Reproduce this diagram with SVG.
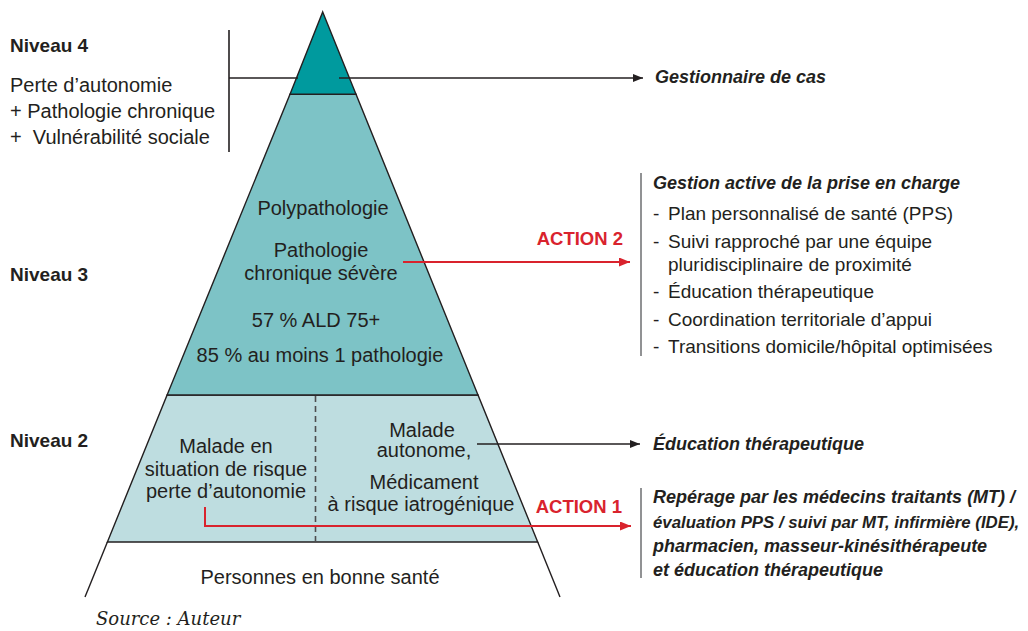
<svg xmlns="http://www.w3.org/2000/svg" width="1028" height="631" viewBox="0 0 1028 631">
<defs>
<style>
.t{font-family:"Liberation Sans",Arial,sans-serif;fill:#231F20}
.r20{font-size:20px}
.r19{font-size:19px}
.niv{font-size:19px;font-weight:bold}
.bi{font-size:18px;font-weight:bold;font-style:italic}
.act{font-family:"Liberation Sans",Arial,sans-serif;font-size:18.5px;font-weight:bold;fill:#D9232D}
.mid{text-anchor:middle}
.edge{stroke:#231F20;stroke-width:1.4;stroke-linejoin:miter}
.cb{stroke:#231F20;stroke-width:1.6;fill:none}
.cr{stroke:#D9232D;stroke-width:2;fill:none}
.gl{stroke:#6D6E71;stroke-width:1.5;fill:none}
.src{font-family:"DejaVu Serif","Liberation Serif",serif;font-style:italic;font-size:18px;fill:#231F20}
</style>
<marker id="ab" markerUnits="userSpaceOnUse" markerWidth="10" markerHeight="8" refX="10" refY="4" orient="auto"><path d="M0,0 L10,4 L0,8 z" fill="#231F20"/></marker>
<marker id="ar" markerUnits="userSpaceOnUse" markerWidth="11" markerHeight="9" refX="11" refY="4.5" orient="auto"><path d="M0,0 L11,4.5 L0,9 z" fill="#D9232D"/></marker>
</defs>
<rect width="1028" height="631" fill="#ffffff"/>

<g id="level1">
<line class="edge" x1="107.4" y1="542" x2="85" y2="597"/>
<line class="edge" x1="537.7" y1="542" x2="560" y2="597"/>
<text class="t r20 mid" x="320" y="584">Personnes en bonne santé</text>
</g>

<g id="level2">
<polygon class="edge" points="167.1,395 478,395 537.7,542 107.4,542" fill="#BEDDE0"/>
<line x1="315.5" y1="396" x2="315.5" y2="541" stroke="#4D4D4F" stroke-width="1.6" stroke-dasharray="6,4"/>
<text class="t r20 mid" x="226" y="453">Malade en</text>
<text class="t r20 mid" x="226" y="476">situation de risque</text>
<text class="t r20 mid" x="226" y="498">perte d’autonomie</text>
<text class="t r20 mid" x="422" y="437">Malade</text>
<text class="t r20 mid" x="424" y="457">autonome,</text>
<text class="t r20 mid" x="424" y="489">Médicament</text>
<text class="t r20 mid" x="421" y="511">à risque iatrogénique</text>
</g>

<g id="level3">
<polygon class="edge" points="290,94.3 356,94.3 478,395 167.1,395" fill="#7DC3C6"/>
<text class="t r20 mid" x="323" y="215">Polypathologie</text>
<text class="t r20 mid" x="321" y="257">Pathologie</text>
<text class="t r20 mid" x="321" y="280">chronique sévère</text>
<text class="t r20 mid" x="316" y="327">57 % ALD 75+</text>
<text class="t r20 mid" x="320" y="362">85 % au moins 1 pathologie</text>
</g>

<g id="level4">
<polygon class="edge" points="322.7,12 356,94.3 290,94.3" fill="#009A9E"/>
</g>

<g id="labels-left">
<text class="t niv" x="10" y="52">Niveau 4</text>
<text class="t r20" x="10" y="92">Perte d’autonomie</text>
<text class="t r20" x="10" y="118">+ Pathologie chronique</text>
<text class="t r20" x="10" y="144">+&#160; Vulnérabilité sociale</text>
<text class="t niv" x="10" y="281">Niveau 3</text>
<text class="t niv" x="10" y="447">Niveau 2</text>
</g>

<g id="connectors">
<line class="cb" x1="229" y1="30" x2="229" y2="152"/>
<line class="cb" x1="229" y1="78" x2="298" y2="78"/>
<line class="cb" x1="339" y1="78" x2="643" y2="78" marker-end="url(#ab)"/>
<line class="cb" x1="477" y1="444" x2="640" y2="444" marker-end="url(#ab)"/>
<line class="cr" x1="403" y1="262" x2="630" y2="262" marker-end="url(#ar)"/>
<polyline class="cr" points="205,507 205,526 631,526" marker-end="url(#ar)"/>
<line class="gl" x1="641" y1="173" x2="641" y2="356"/>
<line class="gl" x1="641" y1="488" x2="641" y2="578"/>
</g>

<g id="actions">
<text class="act" x="623" y="245" text-anchor="end">ACTION 2</text>
<text class="act" x="622" y="513" text-anchor="end">ACTION 1</text>
</g>

<g id="right-texts">
<text class="t bi" x="655" y="83">Gestionnaire de cas</text>
<text class="t bi" x="653" y="189">Gestion active de la prise en charge</text>
<text class="t r19" x="653" y="220">-</text>
<text class="t r19" x="668" y="220">Plan personnalisé de santé (PPS)</text>
<text class="t r19" x="653" y="248">-</text>
<text class="t r19" x="668" y="248">Suivi rapproché par une équipe</text>
<text class="t r19" x="668" y="271">pluridisciplinaire de proximité</text>
<text class="t r19" x="653" y="298">-</text>
<text class="t r19" x="668" y="298">Éducation thérapeutique</text>
<text class="t r19" x="653" y="326">-</text>
<text class="t r19" x="668" y="326">Coordination territoriale d’appui</text>
<text class="t r19" x="653" y="353">-</text>
<text class="t r19" x="668" y="353">Transitions domicile/hôpital optimisées</text>
<text class="t bi" x="653" y="450">Éducation thérapeutique</text>
<text class="t bi" x="653" y="503">Repérage par les médecins traitants (MT) /</text>
<text class="t bi" x="653" y="528" style="font-size:16.8px">évaluation PPS / suivi par MT, infirmière (IDE),</text>
<text class="t bi" x="653" y="552">pharmacien, masseur-kinésithérapeute</text>
<text class="t bi" x="653" y="576">et éducation thérapeutique</text>
</g>

<text class="src" x="96" y="625">Source : Auteur</text>
</svg>
